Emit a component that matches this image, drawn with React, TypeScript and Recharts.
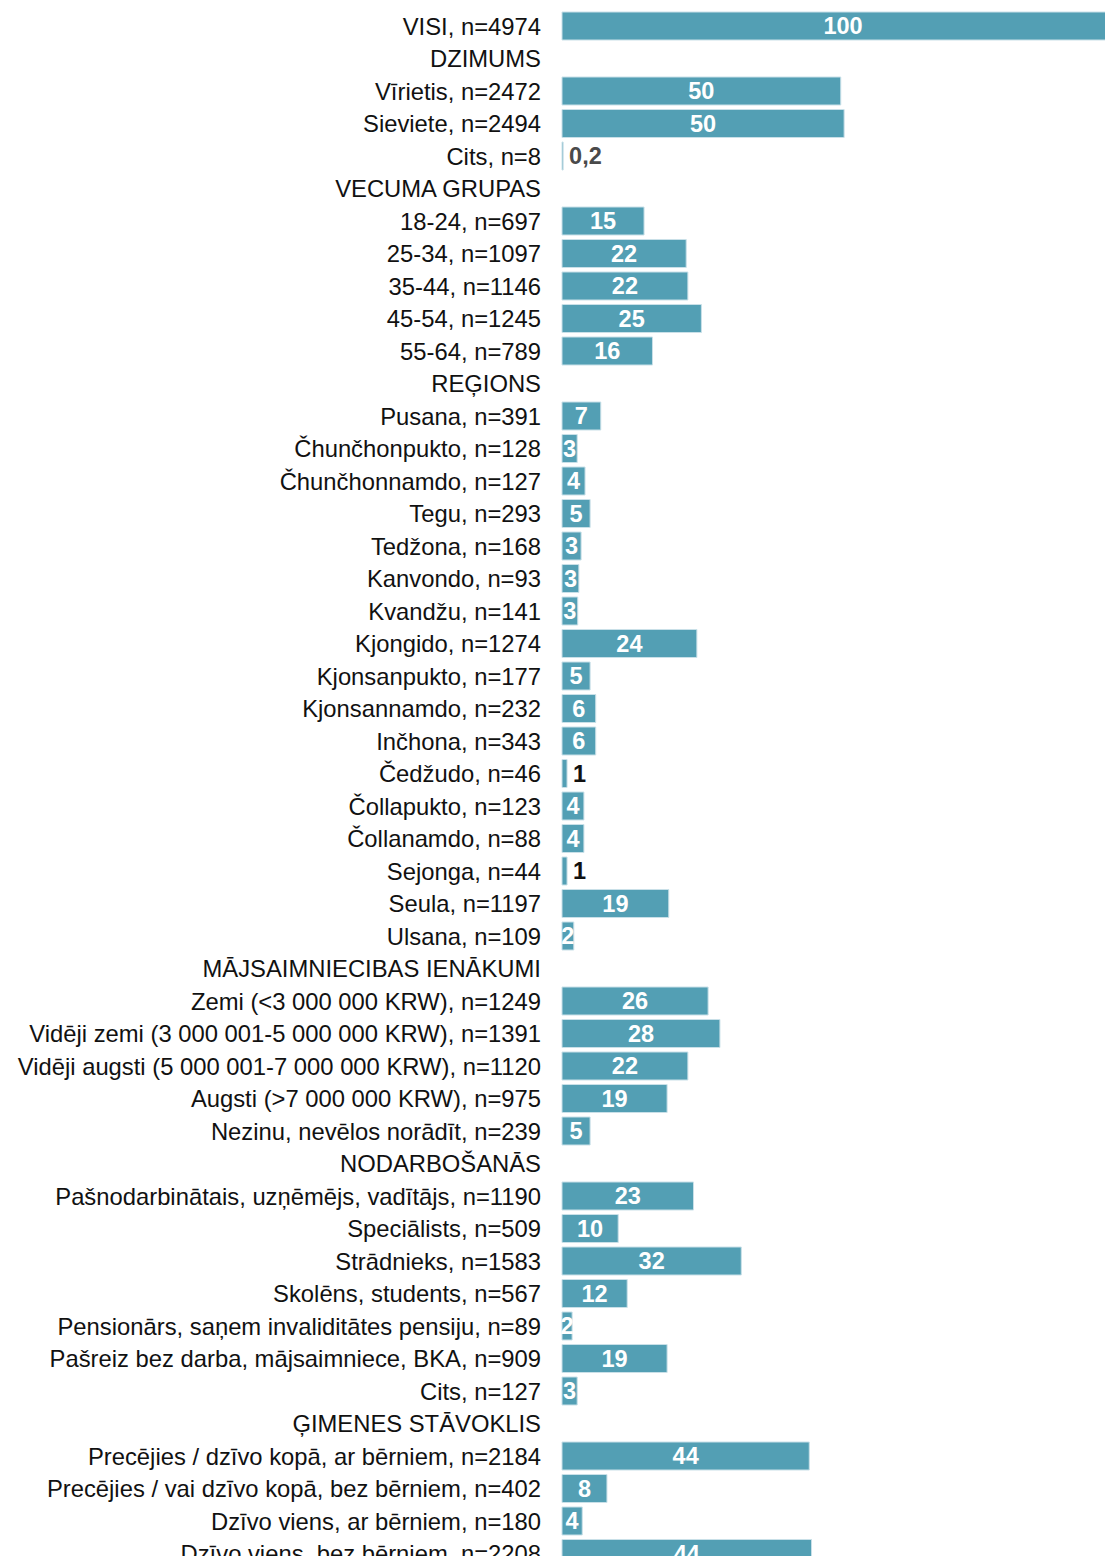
import { BarChart, Bar, XAxis, YAxis, LabelList } from 'recharts';

// category labels, top to bottom (section headers have no value)
const LABELS = [
  'VISI, n=4974',
  'DZIMUMS',
  'Vīrietis, n=2472',
  'Sieviete, n=2494',
  'Cits, n=8',
  'VECUMA GRUPAS',
  '18-24, n=697',
  '25-34, n=1097',
  '35-44, n=1146',
  '45-54, n=1245',
  '55-64, n=789',
  'REĢIONS',
  'Pusana, n=391',
  'Čhunčhonpukto, n=128',
  'Čhunčhonnamdo, n=127',
  'Tegu, n=293',
  'Tedžona, n=168',
  'Kanvondo, n=93',
  'Kvandžu, n=141',
  'Kjongido, n=1274',
  'Kjonsanpukto, n=177',
  'Kjonsannamdo, n=232',
  'Inčhona, n=343',
  'Čedžudo, n=46',
  'Čollapukto, n=123',
  'Čollanamdo, n=88',
  'Sejonga, n=44',
  'Seula, n=1197',
  'Ulsana, n=109',
  'MĀJSAIMNIECIBAS IENĀKUMI',
  'Zemi (<3 000 000 KRW), n=1249',
  'Vidēji zemi (3 000 001-5 000 000 KRW), n=1391',
  'Vidēji augsti (5 000 001-7 000 000 KRW), n=1120',
  'Augsti (>7 000 000 KRW), n=975',
  'Nezinu, nevēlos norādīt, n=239',
  'NODARBOŠANĀS',
  'Pašnodarbinātais, uzņēmējs, vadītājs, n=1190',
  'Speciālists, n=509',
  'Strādnieks, n=1583',
  'Skolēns, students, n=567',
  'Pensionārs, saņem invaliditātes pensiju, n=89',
  'Pašreiz bez darba, mājsaimniece, BKA, n=909',
  'Cits, n=127',
  'ĢIMENES STĀVOKLIS',
  'Precējies / dzīvo kopā, ar bērniem, n=2184',
  'Precējies / vai dzīvo kopā, bez bērniem, n=402',
  'Dzīvo viens, ar bērniem, n=180',
  'Dzīvo viens, bez bērniem, n=2208',
];

// share, % (null = section header row)
const VALUES: (number | null)[] = [
  100,
  null, 49.6, 50.2, 0.2,
  null, 14.6, 22.1, 22.4, 24.8, 16.1,
  null, 6.9, 2.7, 4.1, 5.0, 3.4, 3.0, 2.8, 24.0, 5.0, 6.0, 6.0, 0.9, 3.9, 3.9, 0.9, 19.0, 2.1,
  null, 26.0, 28.1, 22.4, 18.7, 5.0,
  null, 23.4, 10.0, 31.9, 11.6, 1.8, 18.7, 2.7,
  null, 44.0, 8.0, 3.6, 44.4,
];

const data = LABELS.map((label, i) => ({ label, value: VALUES[i] }));

const FONT = '"Liberation Sans", Arial, Helvetica, sans-serif';
const BAR = '#539fb4';

const fmt = (v: number) =>
  v < 0.5 ? v.toFixed(1).replace('.', ',') : String(Math.round(v));

function ValueLabel(props: any) {
  const { x, y, width, height, value } = props;
  if (value == null) return null;
  const v = Number(value);
  const cy = y + height / 2;
  if (v < 1.5) {
    // tiny bars: value sits right of the bar, dark
    return (
      <text
        x={x + width + 6}
        y={cy}
        dy="0.36em"
        textAnchor="start"
        fontFamily={FONT}
        fontWeight="bold"
        fontSize={23.5}
        fill={v < 0.5 ? '#4a4a4a' : '#111'}
      >
        {fmt(v)}
      </text>
    );
  }
  return (
    <text
      x={x + width / 2}
      y={cy}
      dy="0.36em"
      textAnchor="middle"
      fontFamily={FONT}
      fontWeight="bold"
      fontSize={23.5}
      fill="#fff"
    >
      {fmt(v)}
    </text>
  );
}

function CatTick(props: any) {
  const { x, y, payload } = props;
  return (
    <text
      x={x}
      y={y}
      dy="0.36em"
      textAnchor="end"
      fontFamily={FONT}
      fontSize={23.8}
      fill="#111"
    >
      {payload.value}
    </text>
  );
}

export default function App() {
  return (
    <div
      style={{
        width: 1113,
        height: 1564,
        overflow: 'hidden',
        margin: '-8px 0 -8px -8px',
        background: '#fff',
      }}
    >
      <BarChart
        layout="vertical"
        width={1124}
        height={1570}
        data={data}
        margin={{ top: 10, right: 0, bottom: 0, left: 0 }}
        barSize={28}
      >
        <XAxis type="number" domain={[0, 100]} hide />
        <YAxis
          type="category"
          dataKey="label"
          width={562}
          interval={0}
          axisLine={false}
          tickLine={false}
          tickSize={0}
          tickMargin={21}
          tick={<CatTick />}
        />
        <Bar
          dataKey="value"
          fill={BAR}
          stroke="#c9e0e8"
          strokeWidth={1}
          isAnimationActive={false}
        >
          <LabelList dataKey="value" content={<ValueLabel />} />
        </Bar>
      </BarChart>
    </div>
  );
}
